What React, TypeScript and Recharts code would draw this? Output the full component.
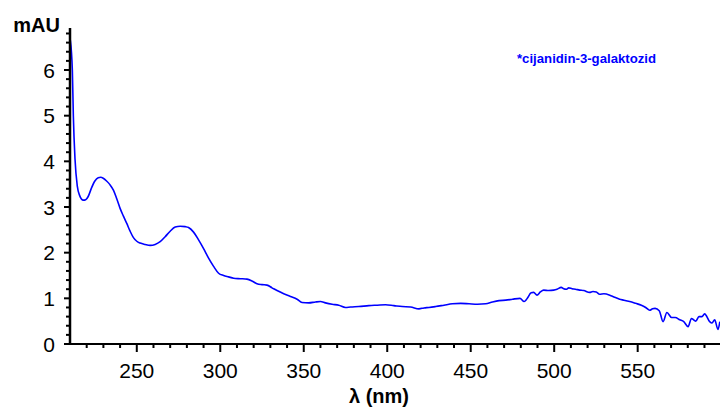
import { LineChart, Line, XAxis, YAxis } from 'recharts'

const FONT = '"Liberation Sans", Arial, Helvetica, sans-serif'

// wavelength (nm) and absorbance (mAU)
const wavelengths = [
  210.2, 211.4, 212.0, 213.0, 214.4, 215.8, 217.9, 219.4, 220.9, 222.9,
  224.9, 226.9, 228.4, 229.9, 231.9, 233.9, 236, 238, 240, 242,
  244, 246, 248, 250, 252, 255, 258, 261, 264, 267,
  270, 273, 276, 279, 281, 284, 287, 290, 293, 296,
  299, 302, 305, 308, 312, 316, 319, 322, 325, 328,
  331, 334, 338, 342, 346, 349, 353, 357, 360, 363,
  367, 371, 375, 378, 383, 389, 394, 399, 404, 409,
  414, 419, 422, 425, 429, 434, 439, 444, 449, 454,
  459, 463, 467, 471, 475, 479.5, 482, 483.7, 486.2, 487.7,
  489.7, 491.7, 493.7, 496.7, 499.7, 501.7, 504.2, 505.7, 507.2, 508.7,
  510.7, 512.7, 515.2, 517.7, 521.2, 523.2, 525.2, 527.2, 529.8, 533.3,
  535.8, 539.2, 541.8, 545.2, 548.8, 552.2, 554.8, 557.2, 558.9, 560.4,
  562.9, 565.2, 567.5, 570.3, 572.5, 575.2, 577.6, 580.2, 582.2, 583.8,
  584.8, 586.7, 588.5, 590.1, 593.1, 594.5, 596.1, 598.1, 599.2,
]

const absorbance = [
  6.65, 6.0, 5.0, 4.05, 3.45, 3.25, 3.15, 3.16, 3.23, 3.42,
  3.57, 3.64, 3.65, 3.63, 3.57, 3.49, 3.37, 3.18, 2.97, 2.8,
  2.64, 2.47, 2.33, 2.25, 2.21, 2.18, 2.16, 2.18, 2.24, 2.35,
  2.47, 2.56, 2.58, 2.57, 2.55, 2.45, 2.28, 2.09, 1.88, 1.7,
  1.55, 1.5, 1.47, 1.44, 1.43, 1.42, 1.38, 1.32, 1.3, 1.29,
  1.23, 1.17, 1.1, 1.04, 0.98, 0.91, 0.9, 0.92, 0.93, 0.9,
  0.87, 0.85, 0.8, 0.81, 0.82, 0.84, 0.85, 0.86, 0.84, 0.82,
  0.81, 0.77, 0.79, 0.8, 0.82, 0.85, 0.88, 0.89, 0.88, 0.87,
  0.88, 0.92, 0.95, 0.96, 0.98, 1.0, 0.93, 0.99, 1.12, 1.13,
  1.07, 1.14, 1.18, 1.17, 1.18, 1.2, 1.24, 1.21, 1.2, 1.23,
  1.21, 1.2, 1.18, 1.17, 1.13, 1.15, 1.14, 1.09, 1.1, 1.07,
  1.03, 0.98, 0.96, 0.93, 0.89, 0.85, 0.8, 0.74, 0.77, 0.78,
  0.73, 0.49, 0.69, 0.58, 0.58, 0.53, 0.49, 0.38, 0.56, 0.52,
  0.5, 0.6, 0.6, 0.66, 0.49, 0.46, 0.53, 0.32, 0.49,
]

const xTicks = [
  220, 230, 240, 250, 260, 270, 280, 290, 300, 310, 320, 330, 340, 350, 360,
  370, 380, 390, 400, 410, 420, 430, 440, 450, 460, 470, 480, 490, 500, 510,
  520, 530, 540, 550, 560, 570, 580, 590,
]
const yTicks = [
  0, 0.2, 0.4, 0.6, 0.8, 1, 1.2, 1.4, 1.6, 1.8, 2, 2.2, 2.4, 2.6, 2.8, 3,
  3.2, 3.4, 3.6, 3.8, 4, 4.2, 4.4, 4.6, 4.8, 5, 5.2, 5.4, 5.6, 5.8, 6, 6.2,
  6.4, 6.6, 6.8,
]

const data = wavelengths.map((nm, i) => ({ nm, mau: absorbance[i] }))

function XTick({ x, y, payload }: any) {
  const major = payload.value % 50 === 0
  return (
    <g>
      <line x1={x} x2={x} y1={y} y2={y + (major ? 8 : 4)} stroke="#000" strokeWidth={2} />
      {major && (
        <text x={x} y={y + 34} textAnchor="middle" fontSize={21} fill="#000" fontFamily={FONT}>
          {payload.value}
        </text>
      )}
    </g>
  )
}

function YTick({ x, y, payload }: any) {
  const major = Math.abs(payload.value - Math.round(payload.value)) < 1e-6
  return (
    <g>
      <line x1={x - (major ? 6 : 4)} x2={x} y1={y} y2={y} stroke="#000" strokeWidth={2} />
      {major && (
        <text x={x - 15} y={y + 7.5} textAnchor="end" fontSize={21} fill="#000" fontFamily={FONT}>
          {Math.round(payload.value)}
        </text>
      )}
    </g>
  )
}

export default function App() {
  return (
    <div style={{ position: 'absolute', left: 0, top: 0, width: 721, height: 412, background: '#fff' }}>
      <LineChart width={721} height={412} data={data} margin={{ top: 28, right: 1, bottom: 0, left: 0 }}>
        <XAxis
          dataKey="nm"
          type="number"
          domain={[210, 599.3]}
          ticks={xTicks}
          allowDataOverflow
          height={68}
          tickLine={false}
          tickSize={0}
          tickMargin={0}
          tick={<XTick />}
          interval={0}
          axisLine={{ stroke: '#000', strokeWidth: 2 }}
        />
        <YAxis
          type="number"
          domain={[0, 6.92]}
          ticks={yTicks}
          allowDataOverflow
          width={70}
          tickLine={false}
          tickSize={0}
          tickMargin={0}
          tick={<YTick />}
          interval={0}
          axisLine={{ stroke: '#000', strokeWidth: 2.5 }}
        />
        <Line
          dataKey="mau"
          type="monotone"
          stroke="#0000ff"
          strokeWidth={1.6}
          dot={false}
          isAnimationActive={false}
        />
        <text x={36.5} y={32} textAnchor="middle" fontSize={20} fontWeight="bold" fill="#000" fontFamily={FONT}>
          mAU
        </text>
        <text x={379} y={403} textAnchor="middle" fontSize={20} fontWeight="bold" fill="#000" fontFamily={FONT}>
          λ (nm)
        </text>
        <text
          x={517}
          y={63}
          fontSize={12}
          fontWeight="bold"
          fill="#0000ff"
          fontFamily={FONT}
          textLength={139}
          lengthAdjust="spacingAndGlyphs"
        >
          *cijanidin-3-galaktozid
        </text>
      </LineChart>
    </div>
  )
}
